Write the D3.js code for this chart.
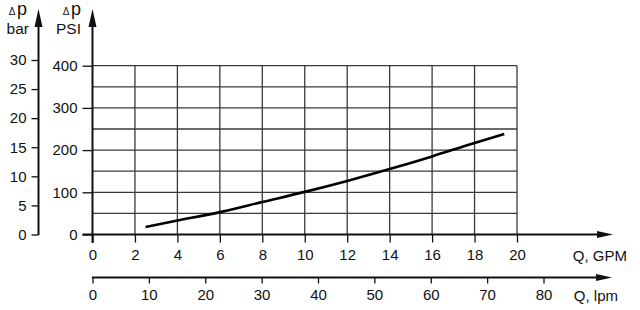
<!DOCTYPE html>
<html><head><meta charset="utf-8">
<script src="https://cdn.jsdelivr.net/npm/d3@7"></script>
<style>
html,body{margin:0;padding:0;background:#fff;}
svg text{font-family:"Liberation Sans",Arial,sans-serif;fill:#111;}
</style></head>
<body><svg id="c" width="640" height="310"></svg>
<script>
// Data
const flowGPM = [2.5, 4, 6, 8, 10, 12, 14, 16, 18, 19.4];
const dpPSI   = [18, 33, 53, 77, 101, 127, 155, 185, 217, 238];
const gpmTicks = [0,2,4,6,8,10,12,14,16,18,20];
const lpmTicks = [0,10,20,30,40,50,60,70,80];
const psiTicks = [0,100,200,300,400];
const psiGrid  = [50,100,150,200,250,300,350,400];
const barTicks = [0,5,10,15,20,25,30];

const svg = d3.select("#c");
const x  = d3.scaleLinear([0,20],[92.5,517]);
const xl = d3.scaleLinear([0,80],[92.5,543.5]);
const yP = d3.scaleLinear([0,400],[234.5,65.7]);
const yB = d3.scaleLinear([0,30],[234.5,60]);

const ink = "#111";
const FS = 15;
function arrow(g, x1,y1,x2,y2,len,half){
  const dx=x2-x1, dy=y2-y1, L=Math.hypot(dx,dy), ux=dx/L, uy=dy/L;
  const bx=x2-ux*len, by=y2-uy*len;
  g.append("line").attr("x1",x1).attr("y1",y1).attr("x2",bx+ux*2).attr("y2",by+uy*2)
    .attr("stroke",ink).attr("stroke-width",2);
  g.append("path").attr("d",`M${x2},${y2}L${bx-uy*half},${by+ux*half}L${bx+uy*half},${by-ux*half}Z`).attr("fill",ink);
}

// grid
const grid = svg.append("g").attr("stroke","#3a3a3a").attr("stroke-width",1.3);
grid.selectAll("line.h").data(psiGrid).join("line").attr("class","h")
  .attr("x1",x(0)).attr("x2",x(20)).attr("y1",d=>yP(d)).attr("y2",d=>yP(d));
grid.selectAll("line.v").data(gpmTicks.filter(d=>d>0)).join("line").attr("class","v")
  .attr("x1",d=>x(d)).attr("x2",d=>x(d)).attr("y1",yP(0)).attr("y2",yP(400));

function styleAxis(g){
  g.select(".domain").remove();
  g.selectAll(".tick line").attr("stroke",ink).attr("stroke-width",1.3);
  g.selectAll(".tick text").attr("font-size",FS).attr("fill",ink)
    .attr("font-family","Liberation Sans, Arial, sans-serif");
}

// GPM axis
const gx = svg.append("g").attr("transform",`translate(0,${yP(0)})`)
  .call(d3.axisBottom(x).tickValues(gpmTicks).tickFormat(d3.format("d")).tickSize(8).tickPadding(7));
styleAxis(gx);
arrow(svg, 82.5, yP(0), 613, yP(0), 16, 3.5);
svg.append("text").attr("x",627).attr("y",261).attr("text-anchor","end").attr("font-size",FS).text("Q, GPM");

// lpm axis
const yl = 277.5;
const gl = svg.append("g").attr("transform",`translate(0,${yl})`)
  .call(d3.axisBottom(xl).tickValues(lpmTicks).tickFormat(d3.format("d")).tickSize(6).tickPadding(6));
styleAxis(gl);
arrow(svg, xl(0)-0.6, yl, 612, yl, 16, 3.5);
svg.append("text").attr("x",618).attr("y",301).attr("text-anchor","end").attr("font-size",FS).text("Q, lpm");

// PSI axis
const gp = svg.append("g").attr("transform",`translate(${x(0)},0)`)
  .call(d3.axisLeft(yP).tickValues(psiTicks).tickFormat(d3.format("d")).tickSize(10).tickPadding(5));
styleAxis(gp);
arrow(svg, x(0), 243, x(0), 9, 18, 4);

// bar axis
const bx = 38.5;
const gb = svg.append("g").attr("transform",`translate(${bx},0)`)
  .call(d3.axisLeft(yB).tickValues(barTicks).tickFormat(d3.format("d")).tickSize(7).tickPadding(5));
styleAxis(gb);
arrow(svg, bx, yB(0)+0.6, bx, 9, 18, 4);

// axis titles
function dp(xr, y){
  const t = svg.append("text").attr("x",xr).attr("y",y).attr("text-anchor","end");
  t.append("tspan").attr("font-size",10).text("Δ");
  t.append("tspan").attr("font-size",18).attr("dx",1.5).text("p");
}
dp(27, 15);
svg.append("text").attr("x",29).attr("y",34).attr("text-anchor","end").attr("font-size",15.5).text("bar");
dp(81, 15);
svg.append("text").attr("x",81).attr("y",34).attr("text-anchor","end").attr("font-size",15.5).text("PSI");

// curve
const line = d3.line().x(d=>x(d[0])).y(d=>yP(d[1])).curve(d3.curveMonotoneX);
svg.append("path").datum(flowGPM.map((g,i)=>[g,dpPSI[i]]))
  .attr("d",line).attr("fill","none").attr("stroke","#000").attr("stroke-width",2.6);
</script></body></html>
